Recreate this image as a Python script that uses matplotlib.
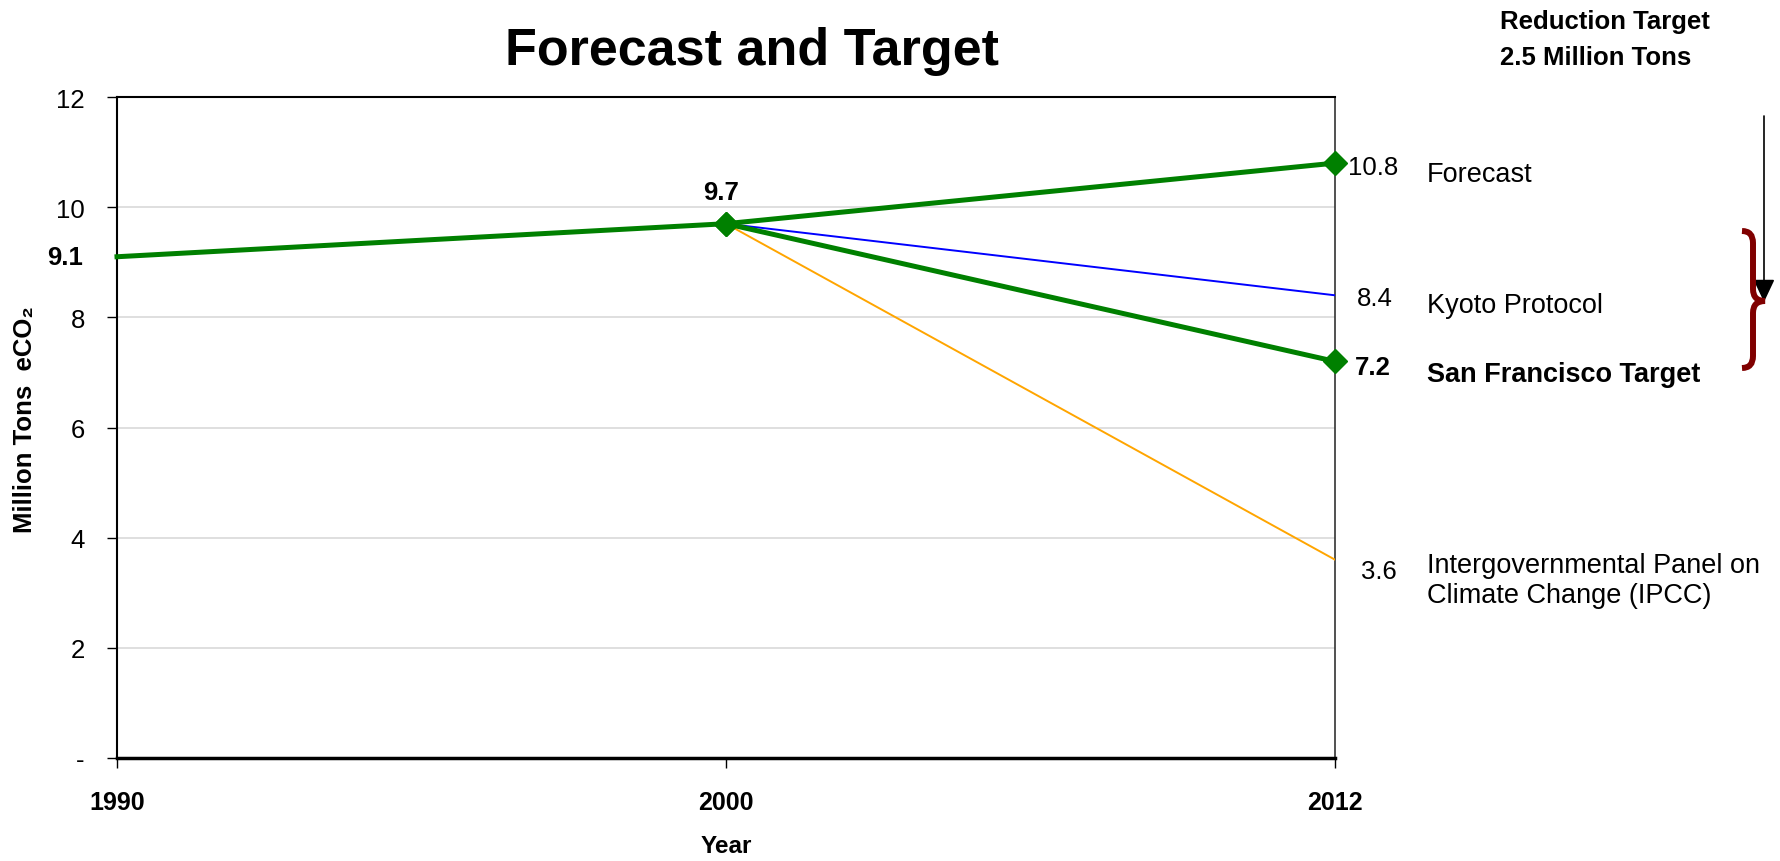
import matplotlib
matplotlib.use("Agg")
import matplotlib.pyplot as plt
from matplotlib.path import Path
from matplotlib.patches import PathPatch
from matplotlib.transforms import Affine2D

plt.rcParams['font.family'] = ['Liberation Sans', 'DejaVu Sans']

# données
years = ['1990', '2000', '2012']
forecast = [9.1, 9.7, 10.8]
sf_target = [9.7, 7.2]      # 2000 -> 2012
kyoto = [9.7, 8.4]
ipcc = [9.7, 3.6]
y_ticks = [0, 2, 4, 6, 8, 10, 12]
y_ticklabels = ['-', '2', '4', '6', '8', '10', '12']

W, H = 1781, 862
fig = plt.figure(figsize=(W / 100, H / 100), dpi=100)
ax = fig.add_axes([117 / W, 1 - 759 / H, (1335 - 117) / W, (759 - 98) / H])

x = range(len(years))
green = '#008000'

ax.plot(x[1:], ipcc, color='#FFA500', lw=1.4, zorder=3)
ax.plot(x[1:], kyoto, color='#0000FF', lw=1.4, zorder=3)
ax.plot(x[1:], sf_target, color=green, lw=3.6, marker='D', ms=12,
        zorder=4, clip_on=False)
ax.plot(x, forecast, color=green, lw=3.6, marker='D', ms=12,
        markevery=[1, 2], zorder=5, clip_on=False)

ax.set_xlim(0, 2)
ax.set_ylim(0, 12)
ax.set_xticks(list(x))
ax.set_xticklabels(years, fontsize=18, fontweight='bold')
ax.set_yticks(y_ticks)
ax.set_yticklabels(y_ticklabels, fontsize=18.5)
ax.tick_params(axis='both', direction='out', length=7.2, width=1, pad=16)
ax.yaxis.grid(True, color='#d9d9d9', lw=1.2)
ax.set_axisbelow(True)

for side in ['left', 'top']:
    ax.spines[side].set_linewidth(1.5)
ax.spines['right'].set_linewidth(1.2)
ax.spines['right'].set_color('#333333')
ax.spines['bottom'].set_linewidth(2.5)

ax.set_xlabel('Year', fontsize=17.5, fontweight='bold', labelpad=14)

# étiquettes des valeurs
def lab(xi, yi, txt, dx, dy, ha='left', bold=False, size=18.5):
    ax.annotate(txt, xy=(xi, yi), xytext=(dx, dy), textcoords='offset pixels',
                ha=ha, va='center', fontsize=size,
                fontweight='bold' if bold else 'normal', annotation_clip=False)

lab(0, forecast[0], '9.1', -34, 0, ha='right', bold=True)
lab(1, forecast[1], '9.7', -5, 32, ha='center', bold=True)
lab(2, forecast[2], '10.8', 13, -4)
lab(2, kyoto[1], '8.4', 22, -3)
lab(2, sf_target[1], '7.2', 20, -6, bold=True)
lab(2, ipcc[1], '3.6', 26, -11)

lab(2, forecast[2], 'Forecast', 92, -11, size=19.5)
lab(2, kyoto[1], 'Kyoto Protocol', 92, -10, size=19.5)
lab(2, sf_target[1], 'San Francisco Target', 92, -13, bold=True, size=19.5)
lab(2, ipcc[1], 'Intergovernmental Panel on\nClimate Change (IPCC)', 92, -20,
    size=19.5)

# titre et axe y
fig.text(752 / W, 1 - 65 / H, 'Forecast and Target', ha='center',
         va='baseline', fontsize=37.5, fontweight='bold')
fig.text(25 / W, 1 - 420 / H, 'Million Tons  eCO\u2082', rotation=90,
         ha='center', va='center', fontsize=18.5, fontweight='bold')
fig.text(1500 / W, 1 - 40 / H, 'Reduction Target\n2.5 Million Tons',
         ha='left', va='center', fontsize=18.5, fontweight='bold',
         linespacing=1.6)

# accolade
px = Affine2D().scale(1 / W, 1 / H) + fig.transFigure
top, mid, bot = H - 232, H - 302, H - 369
verts = [(1742, top), (1753, top), (1753, top - 12),
         (1753, mid + 12),
         (1753, mid), (1765, mid),
         (1753, mid), (1753, mid - 12),
         (1753, bot + 12),
         (1753, bot), (1742, bot)]
codes = [Path.MOVETO, Path.CURVE3, Path.CURVE3, Path.LINETO,
         Path.CURVE3, Path.CURVE3, Path.CURVE3, Path.CURVE3,
         Path.LINETO, Path.CURVE3, Path.CURVE3]
fig.patches.append(PathPatch(Path(verts, codes), transform=px, fill=False,
                             edgecolor='#800000', lw=4.3, capstyle='butt'))

# flèche
ax.annotate('', xy=(1764, H - 303), xycoords='figure pixels',
            xytext=(1764, H - 117), textcoords='figure pixels',
            arrowprops=dict(arrowstyle='-|>,head_length=0.7,head_width=0.33',
                            color='black', lw=1.2, mutation_scale=20,
                            shrinkA=0, shrinkB=0),
            annotation_clip=False)

fig.savefig('out.png', dpi=100)
